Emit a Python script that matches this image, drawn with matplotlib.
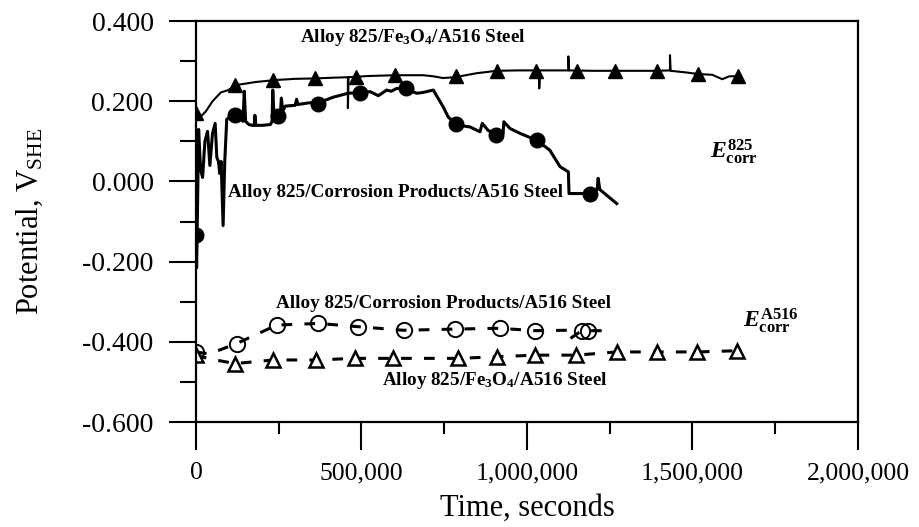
import numpy as np
import matplotlib
matplotlib.use("Agg")
import matplotlib.pyplot as plt
from matplotlib.ticker import MultipleLocator, FuncFormatter

plt.rcParams["font.family"] = ["Liberation Serif", "DejaVu Serif"]
plt.rcParams["mathtext.fontset"] = "custom"
plt.rcParams["mathtext.rm"] = "Liberation Serif"
plt.rcParams["mathtext.it"] = "Liberation Serif:italic:bold"
plt.rcParams["mathtext.bf"] = "Liberation Serif:bold"

# times in kiloseconds, potentials in V(SHE)

# Alloy 825 / Fe3O4 / A516 -- E825 trace (filled triangles)
fe_825_t = [0, 12, 30, 50, 75, 98, 118, 180, 240, 300, 360, 420, 459, 459, 461,
            520, 601, 687, 720, 746, 782, 848, 908, 970, 1037, 1037, 1039,
            1125, 1125, 1127, 1200, 1300, 1392, 1432, 1432, 1434, 1480, 1517,
            1560, 1590, 1610, 1638]
fe_825_v = [0.170, 0.160, 0.175, 0.200, 0.222, 0.228, 0.240, 0.248, 0.253, 0.256,
            0.257, 0.259, 0.260, 0.183, 0.260, 0.263, 0.265, 0.265, 0.262, 0.258,
            0.260, 0.270, 0.276, 0.277, 0.277, 0.232, 0.277, 0.277, 0.312, 0.277,
            0.276, 0.276, 0.276, 0.277, 0.315, 0.276, 0.272, 0.268, 0.266, 0.255,
            0.262, 0.263]
fe_825_mt = [0, 118, 234, 360, 483, 601, 786, 908, 1027, 1150, 1266, 1392, 1517, 1638]
fe_825_mv = [0.170, 0.240, 0.253, 0.257, 0.261, 0.265, 0.263, 0.276, 0.276, 0.276,
             0.276, 0.276, 0.268, 0.263]

# Alloy 825 / corrosion products / A516 -- E825 trace (filled circles)
cp_825_t = [0, 2, 5, 8, 14, 20, 27, 35, 42, 50, 58, 63, 68, 72, 76, 82, 87, 93,
            108, 118, 135, 142, 146, 150, 160, 170, 176, 178, 181, 200, 225, 230,
            232, 236, 249, 255, 258, 262, 270, 300, 304, 308, 340, 372, 414, 459,
            496, 526, 551, 576, 590, 606, 636, 667, 686, 717, 747, 762, 787, 828,
            858, 865, 882, 906, 928, 930, 949, 979, 1029, 1069, 1100, 1125, 1127,
            1150, 1190, 1212, 1215, 1220, 1271]
cp_825_v = [-0.130, -0.215, -0.050, 0.130, 0.030, 0.010, 0.100, 0.125, 0.040, 0.120,
            0.145, 0.060, 0.050, 0.020, 0.050, -0.110, 0.050, 0.155, 0.165, 0.168,
            0.158, 0.150, 0.225, 0.150, 0.142, 0.140, 0.140, 0.165, 0.140, 0.140,
            0.142, 0.150, 0.228, 0.160, 0.163, 0.170, 0.208, 0.175, 0.188, 0.190,
            0.205, 0.192, 0.196, 0.197, 0.210, 0.220, 0.222, 0.224, 0.214, 0.228,
            0.225, 0.232, 0.230, 0.220, 0.222, 0.228, 0.186, 0.161, 0.141, 0.136,
            0.124, 0.145, 0.128, 0.116, 0.120, 0.149, 0.132, 0.120, 0.103, 0.078,
            0.037, 0.024, -0.030, -0.030, -0.030, -0.020, 0.008, -0.020, -0.055]
cp_825_mt = [0, 118, 249, 370, 496, 634, 786, 906, 1029, 1190]
cp_825_mv = [-0.134, 0.166, 0.163, 0.193, 0.220, 0.232, 0.143, 0.116, 0.103, -0.030]

# Alloy 825 / corrosion products / A516 -- EA516 trace (open circles)
cp_516_t = [0, 40, 123, 244, 370, 490, 628, 782, 918, 1024, 1120, 1130, 1130,
            1165, 1185, 1260]
cp_516_v = [-0.425, -0.430, -0.404, -0.358, -0.354, -0.362, -0.371, -0.368, -0.366,
            -0.372, -0.371, -0.371, -0.392, -0.372, -0.372, -0.372]
cp_516_mt = [0, 123, 244, 370, 490, 628, 782, 918, 1024, 1165, 1185]
cp_516_mv = [-0.425, -0.404, -0.358, -0.354, -0.362, -0.371, -0.368, -0.366, -0.372,
             -0.374, -0.372]

# Alloy 825 / Fe3O4 / A516 -- EA516 trace (open triangles)
fe_516_t = [0, 40, 118, 234, 363, 480, 596, 793, 908, 1024, 1148, 1271, 1392, 1513, 1634]
fe_516_v = [-0.433, -0.442, -0.454, -0.445, -0.445, -0.441, -0.441, -0.441, -0.437,
            -0.433, -0.433, -0.425, -0.425, -0.425, -0.422]
fe_516_mt = [0, 118, 234, 363, 480, 596, 793, 908, 1024, 1148, 1271, 1392, 1513, 1634]
fe_516_mv = [-0.433, -0.454, -0.445, -0.445, -0.441, -0.441, -0.441, -0.437, -0.433,
             -0.433, -0.425, -0.425, -0.425, -0.422]

ks = 1000.0

fig = plt.figure(figsize=(9.2, 5.27), dpi=100)
ax = fig.add_axes([0.213, 0.199, 0.7196, 0.761])

ax.plot(np.array(fe_825_t) * ks, fe_825_v, color="black", lw=1.5)
ax.plot(np.array(fe_825_mt) * ks, fe_825_mv, ls="none", marker="^", ms=10,
        color="black")
ax.plot(np.array(cp_825_t) * ks, cp_825_v, color="black", lw=2.2)
ax.plot(np.array(cp_825_mt) * ks, cp_825_mv, ls="none", marker="o", ms=10.5,
        color="black")
ax.plot(np.array(cp_516_t) * ks, cp_516_v, color="black", lw=2.2, ls=(0, (3.5, 4)))
ax.plot(np.array(cp_516_mt) * ks, cp_516_mv, ls="none", marker="o", ms=11,
        mfc="none", mec="black", mew=1.4)
ax.plot(np.array(fe_516_t) * ks, fe_516_v, color="black", lw=2.2, ls=(0, (3.5, 4)))
ax.plot(np.array(fe_516_mt) * ks, fe_516_mv, ls="none", marker="^", ms=10,
        mfc="white", mec="black", mew=1.8)

bold = dict(fontsize=13.8, fontweight="bold", color="black")
ax.text(315e3, 0.348, "Alloy 825/Fe$_\\mathbf{3}$O$_\\mathbf{4}$/A516 Steel", **bold)
ax.text(98e3, -0.038, "Alloy 825/Corrosion Products/A516 Steel", **bold)
ax.text(242e3, -0.316, "Alloy 825/Corrosion Products/A516 Steel", **bold)
ax.text(561e3, -0.508, "Alloy 825/Fe$_\\mathbf{3}$O$_\\mathbf{4}$/A516 Steel", **bold)
ax.text(1553e3, 0.058, "$E^{\\mathbf{825}}_{\\mathbf{corr}}$", fontsize=17)
ax.text(1653e3, -0.362, "$E^{\\mathbf{A516}}_{\\mathbf{corr}}$", fontsize=17)

ax.set_xlim(0, 2000000)
ax.set_ylim(-0.6, 0.4)
ax.xaxis.set_major_locator(MultipleLocator(500000))
ax.xaxis.set_minor_locator(MultipleLocator(250000))
ax.yaxis.set_major_locator(MultipleLocator(0.2))
ax.yaxis.set_minor_locator(MultipleLocator(0.1))
ax.xaxis.set_major_formatter(FuncFormatter(lambda v, p: f"{v:,.0f}"))
ax.yaxis.set_major_formatter(FuncFormatter(lambda v, p: f"{v + 0.0:.3f}".replace("-0.000", "0.000")))

ax.tick_params(axis="y", which="major", direction="out", length=19.5, width=1.5,
               labelsize=20, pad=11)
ax.tick_params(axis="y", which="minor", direction="out", length=11.5, width=1.5)
ax.tick_params(axis="x", which="major", direction="out", length=20, width=1.5,
               labelsize=18.5, pad=9)
ax.tick_params(axis="x", which="minor", direction="out", length=8.6, width=1.5)
for sp in ax.spines.values():
    sp.set_linewidth(1.6)

ax.set_xlabel("Time, seconds", fontsize=22, labelpad=7)
ax.set_ylabel("Potential, V$_{\\mathrm{SHE}}$", fontsize=22, labelpad=27)

fig.savefig("out.png", dpi=100)
